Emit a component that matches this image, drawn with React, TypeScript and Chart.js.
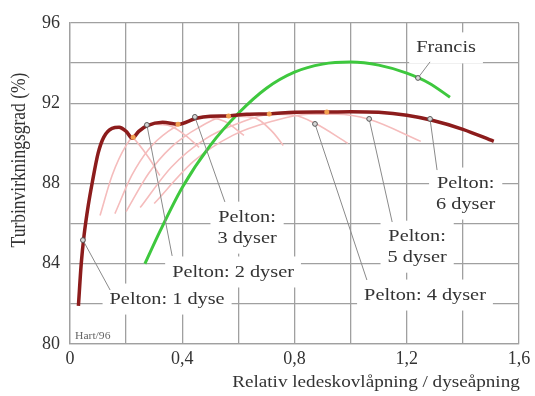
import React, { useEffect, useRef } from 'react';
import { Chart, registerables } from 'chart.js';

Chart.register(...registerables);

// ---- data ----
const X_TICK_LABELS = [0, 0.4, 0.8, 1.2, 1.6];
const Y_TICK_LABELS = [80, 84, 88, 92, 96];

const envelopeX = [0.03, 0.04, 0.05, 0.065, 0.08, 0.1, 0.12, 0.15, 0.175, 0.2, 0.222, 0.245, 0.275, 0.33, 0.385, 0.45, 0.5, 0.565, 0.63, 0.71, 0.8, 0.915, 1.0, 1.1, 1.2, 1.29, 1.4, 1.51];
const envelopeY = [81.9, 84.0, 85.4, 86.9, 88.1, 89.5, 90.3, 90.75, 90.8, 90.6, 90.25, 90.6, 90.88, 91.05, 90.95, 91.25, 91.35, 91.37, 91.45, 91.47, 91.55, 91.56, 91.58, 91.55, 91.4, 91.15, 90.7, 90.1];

const francisX = [0.267, 0.32, 0.4, 0.5, 0.6, 0.7, 0.8, 0.9, 1.0, 1.1, 1.2, 1.28, 1.354];
const francisY = [84.0, 85.6, 87.8, 89.9, 91.5, 92.75, 93.55, 93.95, 94.05, 93.9, 93.5, 93.0, 92.3];

const pelton1X = [0.17, 0.22, 0.28, 0.32];
const pelton1Y = [90.8, 90.35, 89.3, 88.4];
const pelton2X = [0.107, 0.15, 0.2, 0.25, 0.3, 0.36, 0.42, 0.46];
const pelton2Y = [86.4, 88.4, 89.9, 90.7, 90.95, 90.85, 90.3, 89.8];
const pelton3X = [0.16, 0.22, 0.28, 0.35, 0.42, 0.47, 0.55, 0.62];
const pelton3Y = [86.5, 88.4, 89.7, 90.6, 91.1, 91.3, 91.1, 90.4];
const pelton4X = [0.2, 0.28, 0.36, 0.46, 0.56, 0.65, 0.72, 0.76];
const pelton4Y = [86.6, 88.5, 89.8, 90.8, 91.35, 91.3, 90.6, 89.9];
const pelton5X = [0.25, 0.36, 0.48, 0.6, 0.72, 0.8, 0.873, 0.99];
const pelton5Y = [86.8, 88.8, 90.2, 91.0, 91.45, 91.4, 91.0, 90.0];
const pelton6X = [0.3, 0.44, 0.58, 0.72, 0.85, 0.95, 1.065, 1.25];
const pelton6Y = [87.0, 89.1, 90.4, 91.1, 91.45, 91.45, 91.2, 90.1];

const crossX = [0.225, 0.385, 0.565, 0.71, 0.915];
const crossY = [90.3, 90.95, 91.37, 91.47, 91.56];

// annotation labels (text lines, label centre, pointer start, pointer end) in data units
const LABEL_TEXT = [['Francis'], ['Pelton:', '6 dyser'], ['Pelton:', '5 dyser'], ['Pelton: 4 dyser'], ['Pelton:', '3 dyser'], ['Pelton: 2 dyser'], ['Pelton: 1 dyse']];
const LABEL_AT = [[1.34, 94.76], [1.41, 87.5], [1.237, 84.85], [1.265, 82.44], [0.631, 85.8], [0.581, 83.59], [0.346, 82.24]];
const POINTER_FROM = [[1.283, 94.06], [1.308, 88.67], [1.148, 86.08], [1.058, 83.19], [0.552, 87.08], [0.364, 84.39], [0.143, 82.69]];
const POINTER_TO = [[1.24, 93.26], [1.283, 91.22], [1.066, 91.22], [0.873, 90.97], [0.445, 91.32], [0.274, 90.92], [0.046, 85.18]];

const X_TITLE = 'Relativ ledeskovlåpning / dyseåpning';
const Y_TITLE = 'Turbinvirkningsgrad (%)';
const CREDIT = 'Hart/96';

const pts = (xs: number[], ys: number[]) => xs.map((x, i) => ({ x, y: ys[i] }));

const SERIF = '"Liberation Serif", "DejaVu Serif", serif';
const TEXT_COLOR = '#333333';
const STRETCH = 1.16;
const LINE_H = 21;

function stretchedText(ctx: CanvasRenderingContext2D, text: string, x: number, y: number) {
  ctx.save();
  ctx.translate(x, y);
  ctx.scale(STRETCH, 1);
  ctx.fillText(text, 0, 0);
  ctx.restore();
}

const annotationPlugin = {
  id: 'annotations',
  beforeDatasetsDraw(chart: any) {
    const { ctx, scales } = chart;
    const xs = scales.x, ys = scales.y;
    ctx.save();
    ctx.font = `17.5px ${SERIF}`;
    ctx.fillStyle = '#ffffff';
    LABEL_TEXT.forEach((lines, i) => {
      const cx = xs.getPixelForValue(LABEL_AT[i][0]);
      const cy = ys.getPixelForValue(LABEL_AT[i][1]);
      const w = Math.max(...lines.map((t) => ctx.measureText(t).width)) * STRETCH;
      const h = lines.length * LINE_H;
      ctx.fillRect(cx - w / 2 - 7, cy - h / 2 - 5, w + 14, h + 10);
    });
    ctx.restore();
  },
  afterDatasetsDraw(chart: any) {
    const { ctx, scales, chartArea } = chart;
    const xs = scales.x, ys = scales.y;
    ctx.save();
    // pointer lines
    ctx.strokeStyle = '#8a8a8a';
    ctx.lineWidth = 1;
    POINTER_FROM.forEach((f, i) => {
      const t = POINTER_TO[i];
      ctx.beginPath();
      ctx.moveTo(xs.getPixelForValue(f[0]), ys.getPixelForValue(f[1]));
      ctx.lineTo(xs.getPixelForValue(t[0]), ys.getPixelForValue(t[1]));
      ctx.stroke();
    });
    POINTER_TO.forEach((t) => {
      ctx.beginPath();
      ctx.arc(xs.getPixelForValue(t[0]), ys.getPixelForValue(t[1]), 2.4, 0, Math.PI * 2);
      ctx.fillStyle = '#d8d8d8';
      ctx.fill();
      ctx.strokeStyle = '#555';
      ctx.lineWidth = 1;
      ctx.stroke();
    });
    // label text
    ctx.font = `17.5px ${SERIF}`;
    ctx.fillStyle = TEXT_COLOR;
    ctx.textAlign = 'center';
    ctx.textBaseline = 'middle';
    LABEL_TEXT.forEach((lines, i) => {
      const cx = xs.getPixelForValue(LABEL_AT[i][0]);
      const cy = ys.getPixelForValue(LABEL_AT[i][1]);
      const h = lines.length * LINE_H;
      lines.forEach((t, j) => stretchedText(ctx, t, cx, cy - h / 2 + LINE_H / 2 + j * LINE_H));
    });
    // credit
    ctx.font = `10px ${SERIF}`;
    ctx.fillStyle = '#666';
    ctx.textAlign = 'left';
    stretchedText(ctx, CREDIT, chartArea.left + 5, chartArea.bottom - 8);
    // axis titles
    ctx.font = `16.5px ${SERIF}`;
    ctx.fillStyle = TEXT_COLOR;
    ctx.textAlign = 'center';
    stretchedText(ctx, X_TITLE, 376, 383);
    ctx.font = `17.5px ${SERIF}`;
    ctx.translate(20, 160);
    ctx.rotate(-Math.PI / 2);
    ctx.scale(1, STRETCH);
    ctx.fillText(Y_TITLE, 0, 0);
    ctx.restore();
  },
};

export default function App() {
  const ref = useRef<HTMLCanvasElement | null>(null);
  useEffect(() => {
    if (!ref.current) return;
    const pink = '#f5bcbc';
    const pinkSet = (xs: number[], ys: number[]) => ({
      data: pts(xs, ys),
      borderColor: pink,
      borderWidth: 1.6,
      pointRadius: 0,
      cubicInterpolationMode: 'monotone' as const,
      order: 4,
    });
    const chart = new Chart(ref.current, {
      type: 'line',
      data: {
        datasets: [
          pinkSet(pelton1X, pelton1Y),
          pinkSet(pelton2X, pelton2Y),
          pinkSet(pelton3X, pelton3Y),
          pinkSet(pelton4X, pelton4Y),
          pinkSet(pelton5X, pelton5Y),
          pinkSet(pelton6X, pelton6Y),
          {
            data: pts(francisX, francisY),
            borderColor: '#3ec83e',
            borderWidth: 3,
            pointRadius: 0,
            cubicInterpolationMode: 'monotone',
            order: 3,
          },
          {
            data: pts(envelopeX, envelopeY),
            borderColor: '#8c1c1c',
            borderWidth: 3.5,
            pointRadius: 0,
            cubicInterpolationMode: 'monotone',
            order: 2,
          },
          {
            data: pts(crossX, crossY),
            showLine: false,
            pointRadius: 2.5,
            pointBackgroundColor: '#f2a050',
            pointBorderWidth: 0,
            order: 1,
          },
        ] as any,
      },
      options: {
        responsive: false,
        animation: false,
        layout: { padding: { top: 23, right: 16, left: 0, bottom: 0 } },
        plugins: { legend: { display: false }, tooltip: { enabled: false } },
        scales: {
          x: {
            type: 'linear',
            min: 0,
            max: 1.6,
            ticks: {
              stepSize: 0.2,
              autoSkip: false,
              maxRotation: 0,
              padding: 4,
              color: TEXT_COLOR,
              font: { family: SERIF, size: 18 },
              callback: (v: any) => {
                const r = Math.round(Number(v) * 10) / 10;
                return X_TICK_LABELS.some((t) => Math.abs(t - r) < 1e-6) ? String(r).replace('.', ',') : '';
              },
            },
            grid: { color: '#a0a0a0', lineWidth: 1.3, drawTicks: false },
            border: { color: '#a0a0a0', width: 1.3 },
            afterFit: (s: any) => { s.height = 52; },
          },
          y: {
            type: 'linear',
            min: 80,
            max: 96,
            ticks: {
              stepSize: 2,
              autoSkip: false,
              padding: 10,
              color: TEXT_COLOR,
              font: { family: SERIF, size: 18 },
              callback: (v: any) => (Y_TICK_LABELS.includes(Number(v)) ? String(v) : ''),
            },
            grid: { color: '#a0a0a0', lineWidth: 1.3, drawTicks: false },
            border: { color: '#a0a0a0', width: 1.3 },
            afterFit: (s: any) => { s.width = 70; },
          },
        },
      } as any,
      plugins: [annotationPlugin],
    });
    return () => chart.destroy();
  }, []);
  return (
    <div style={{ position: 'absolute', left: 0, top: 0, width: 535, height: 396, background: '#fff' }}>
      <canvas ref={ref} width={535} height={396} style={{ display: 'block' }} />
    </div>
  );
}
